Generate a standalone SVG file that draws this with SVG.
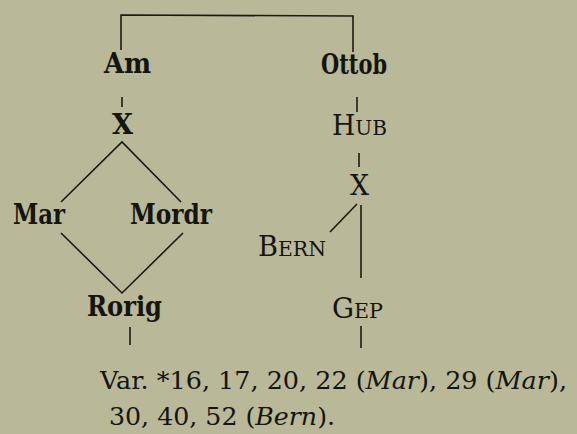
<svg xmlns="http://www.w3.org/2000/svg" width="577" height="434" viewBox="0 0 577 434">
<style>
.b{font-family:"DejaVu Serif","Liberation Serif","Times New Roman",serif;font-weight:bold;font-size:28px;fill:#151510}
.r{font-family:"DejaVu Serif","Liberation Serif","Times New Roman",serif;font-size:28px;fill:#151510}
.t{font-family:"DejaVu Serif","Liberation Serif","Times New Roman",serif;font-size:25px;fill:#151510}
.sc{font-size:21px}
.i{font-style:italic}
.l{stroke:#1a1a14;stroke-width:1.6;fill:none}
</style>
<rect width="577" height="434" fill="#b9b898"/>
<g id="connectors">
<polyline class="l" points="121,50 121,15 353,16 353,52"/>
<line class="l" x1="122" y1="97" x2="122" y2="107"/>
<line class="l" x1="357" y1="97" x2="357" y2="112"/>
<polyline class="l" points="61,202 122,142 181,202"/>
<polyline class="l" points="61,233 122,293 183,233"/>
<line class="l" x1="130" y1="327" x2="130" y2="345"/>
<line class="l" x1="359" y1="153" x2="359" y2="167"/>
<line class="l" x1="357" y1="204" x2="330" y2="232"/>
<line class="l" x1="361" y1="205" x2="361" y2="278"/>
<line class="l" x1="361" y1="326" x2="361" y2="348"/>
</g>
<g id="Am"><text class="b" x="104" y="73" textLength="47" lengthAdjust="spacingAndGlyphs">Am</text></g>
<g id="Ottob"><text class="b" x="321" y="74" textLength="66" lengthAdjust="spacingAndGlyphs">Ottob</text></g>
<g id="X1"><text class="b" x="112" y="134" textLength="21" lengthAdjust="spacingAndGlyphs">X</text></g>
<g id="Hub"><text class="r" x="332" y="135" textLength="55" lengthAdjust="spacingAndGlyphs">H<tspan class="sc">UB</tspan></text></g>
<g id="Mar"><text class="b" x="13" y="224" textLength="52" lengthAdjust="spacingAndGlyphs">Mar</text></g>
<g id="Mordr"><text class="b" x="130" y="224" textLength="82" lengthAdjust="spacingAndGlyphs">Mordr</text></g>
<g id="Rorig"><text class="b" x="87" y="316" textLength="75" lengthAdjust="spacingAndGlyphs">Rorig</text></g>
<g id="X2"><text class="r" x="350" y="195" textLength="19" lengthAdjust="spacingAndGlyphs">X</text></g>
<g id="Bern"><text class="r" x="258" y="256" textLength="68" lengthAdjust="spacingAndGlyphs">B<tspan class="sc">ERN</tspan></text></g>
<g id="Gep"><text class="r" x="332" y="318" textLength="51" lengthAdjust="spacingAndGlyphs">G<tspan class="sc">EP</tspan></text></g>
<g id="notes">
<text class="t" x="100" y="389" textLength="467" lengthAdjust="spacingAndGlyphs">Var. *16,  17,  20,  22  (<tspan class="i">Mar</tspan>), 29  (<tspan class="i">Mar</tspan>),</text>
<text class="t" x="109" y="425" textLength="226" lengthAdjust="spacingAndGlyphs">30,  40,  52  (<tspan class="i">Bern</tspan>).</text>
</g>
</svg>
